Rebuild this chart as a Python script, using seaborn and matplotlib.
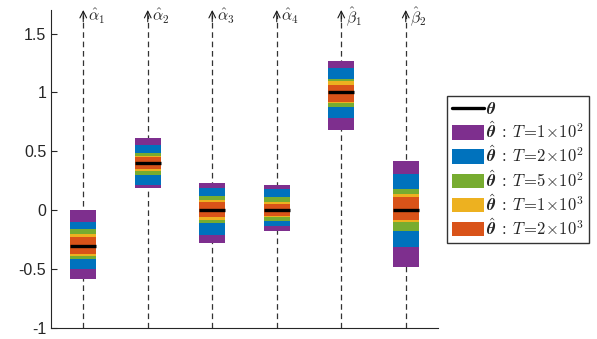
import numpy as np
import matplotlib
matplotlib.use("Agg")
import matplotlib.pyplot as plt
import seaborn as sns
from matplotlib.lines import Line2D
from matplotlib.patches import Patch

# parameters on the x axis
param_labels = [r"$\hat{\alpha}_1$", r"$\hat{\alpha}_2$", r"$\hat{\alpha}_3$",
                r"$\hat{\alpha}_4$", r"$\hat{\beta}_1$", r"$\hat{\beta}_2$"]
theta_true = [-0.30, 0.40, 0.00, 0.00, 1.00, 0.00]

# estimate intervals (lower, upper) per sample size T
lo_T100 = [-0.58, 0.19, -0.28, -0.18, 0.68, -0.48]
hi_T100 = [0.00, 0.61, 0.23, 0.21, 1.27, 0.42]
lo_T200 = [-0.50, 0.21, -0.21, -0.13, 0.78, -0.31]
hi_T200 = [-0.10, 0.55, 0.19, 0.18, 1.21, 0.31]
lo_T500 = [-0.41, 0.30, -0.11, -0.09, 0.88, -0.18]
hi_T500 = [-0.16, 0.49, 0.12, 0.11, 1.11, 0.18]
lo_T1000 = [-0.39, 0.33, -0.08, -0.06, 0.91, -0.10]
hi_T1000 = [-0.20, 0.46, 0.09, 0.07, 1.10, 0.14]
lo_T2000 = [-0.37, 0.35, -0.06, -0.05, 0.92, -0.08]
hi_T2000 = [-0.23, 0.45, 0.07, 0.05, 1.06, 0.11]

T_labels = [r"1\!\times\!10^2", r"2\!\times\!10^2", r"5\!\times\!10^2",
            r"1\!\times\!10^3", r"2\!\times\!10^3"]
T_colors = ["#7E2F8E", "#0072BD", "#77AC30", "#EDB120", "#D95319"]

sns.set_style("ticks")
plt.rcParams["font.family"] = ["Liberation Sans", "DejaVu Sans"]
plt.rcParams["mathtext.fontset"] = "cm"

fig = plt.figure(figsize=(5.97, 3.39), dpi=100)
ax = fig.add_axes([51 / 597, 11 / 339, 387 / 597, 318 / 339])

pos = np.arange(1, len(param_labels) + 1)
w = 0.4

# dashed guide lines with open arrow heads at the top
for x, lab in zip(pos, param_labels):
    ax.plot([x, x], [-1.0, 1.66], color="0.2", lw=0.9, dashes=(4.5, 3), zorder=1)
    ax.annotate("", xy=(x, 1.70), xytext=(x, 1.60),
                arrowprops=dict(arrowstyle="->", lw=0.8, color="0.1",
                                mutation_scale=12, shrinkA=0, shrinkB=0),
                annotation_clip=False, zorder=2)
    ax.text(x + 0.07, 1.645, lab, fontsize=11.5, va="center", ha="left")

intervals = [(lo_T100, hi_T100), (lo_T200, hi_T200), (lo_T500, hi_T500),
             (lo_T1000, hi_T1000), (lo_T2000, hi_T2000)]
for (lo, hi), c in zip(intervals, T_colors):
    lo = np.array(lo)
    hi = np.array(hi)
    ax.bar(pos, hi - lo, bottom=lo, width=w, color=c, edgecolor="none", zorder=3)

ax.hlines(theta_true, pos - w / 2, pos + w / 2, color="black", lw=2.4, zorder=4)

ax.set_xlim(0.5, 6.5)
ax.set_ylim(-1, 1.7)
ax.set_xticks([])
ax.set_yticks([-1, -0.5, 0, 0.5, 1, 1.5])
ax.set_yticklabels(["-1", "-0.5", "0", "0.5", "1", "1.5"])
ax.tick_params(axis="y", direction="in", length=4, labelsize=11.5, width=0.8, colors="0.15")
sns.despine(ax=ax)
for s in ["left", "bottom"]:
    ax.spines[s].set_color("0.15")
    ax.spines[s].set_linewidth(0.8)

handles = [Line2D([0], [0], color="black", lw=2.4)]
labels = [r"$\boldsymbol{\theta}$"]
for c, t in zip(T_colors, T_labels):
    handles.append(Patch(facecolor=c, edgecolor="none"))
    labels.append(r"$\hat{\boldsymbol{\theta}}\;:\;T\!=\!" + t + "$")

fig.legend(handles, labels, loc="upper left",
           bbox_to_anchor=(447 / 597, 1 - 96 / 339), fontsize=12,
           frameon=True, fancybox=False, framealpha=1, edgecolor="0.2",
           handlelength=1.9, handleheight=0.95, handletextpad=0.15,
           labelspacing=0.2, borderpad=0.3, borderaxespad=0)

fig.savefig("out.png", dpi=100)
